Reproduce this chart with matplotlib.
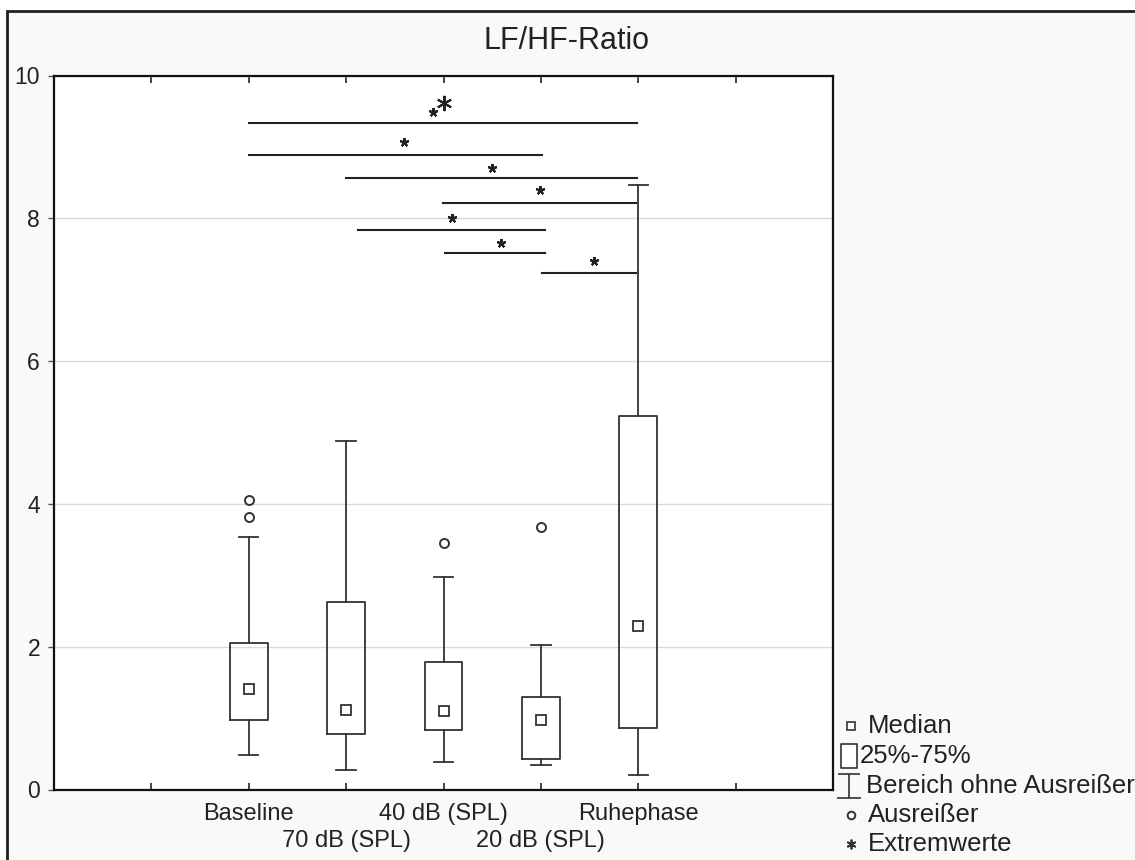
import numpy as np
import matplotlib
matplotlib.use("Agg")
import matplotlib.pyplot as plt
from matplotlib.path import Path
from matplotlib.lines import Line2D
from matplotlib.patches import Rectangle

plt.rcParams['font.family'] = ['Liberation Sans', 'DejaVu Sans']

# ---------------- data ----------------
title = "LF/HF-Ratio"
categories = ['Baseline', '70 dB (SPL)', '40 dB (SPL)', '20 dB (SPL)', 'Ruhephase']
medians = [1.41, 1.12, 1.10, 0.97, 2.29]
q1 = [0.98, 0.78, 0.83, 0.43, 0.86]
q3 = [2.05, 2.62, 1.78, 1.30, 5.23]
whislo = [0.48, 0.28, 0.38, 0.34, 0.21]
whishi = [3.54, 4.88, 2.97, 2.02, 8.46]
outliers = [[4.05, 3.82], [], [3.45], [3.68], []]
extremes = [[], [], [9.62], [], []]

# significance brackets (x from, x to, y) and star positions
sig_x0 = [2.00, 2.00, 3.00, 3.99, 3.12, 4.02, 5.01]
sig_x1 = [5.99, 5.01, 5.99, 5.98, 5.04, 5.04, 5.98]
sig_y = [9.33, 8.89, 8.56, 8.21, 7.84, 7.52, 7.24]
star_x = [3.89, 3.59, 4.50, 4.99, 4.09, 4.59, 5.55]
star_y = [9.49, 9.07, 8.70, 8.40, 8.00, 7.65, 7.40]

yticks = [0, 2, 4, 6, 8, 10]
legend_labels = ['Median', '25%-75%', 'Bereich ohne Ausreißer', 'Ausreißer', 'Extremwerte']

# ---------------- figure ----------------
W, H = 1135, 860
fig = plt.figure(figsize=(W / 100, H / 100), dpi=100, facecolor='white')

# outer frame (left and top visible)
fig.add_artist(Rectangle((7 / W, -0.05), 1.2, 1 - 11 / H + 0.05, transform=fig.transFigure,
                         facecolor='#f9f9f9', edgecolor='#202020', linewidth=2.0, zorder=0))

ax = fig.add_axes([54 / W, 1 - 789.5 / H, (833 - 54) / W, (789.5 - 75.5) / H])
ax.set_facecolor('white')
ax.set_zorder(1)

dark = '#333333'
pos = np.arange(len(categories)) + 2

stats = []
for i, c in enumerate(categories):
    stats.append(dict(label=c, med=medians[i], q1=q1[i], q3=q3[i],
                      whislo=whislo[i], whishi=whishi[i], fliers=outliers[i]))

ax.bxp(stats, positions=pos, widths=0.39, capwidths=0.2, showfliers=True,
       boxprops=dict(color=dark, linewidth=1.3),
       whiskerprops=dict(color=dark, linewidth=1.3),
       capprops=dict(color=dark, linewidth=1.3),
       medianprops=dict(linestyle='none', linewidth=0),
       flierprops=dict(marker='o', markersize=6.5, markerfacecolor='none',
                       markeredgecolor=dark, markeredgewidth=1.4),
       zorder=3)

ax.plot(pos, medians, linestyle='none', marker='s', markersize=7,
        markerfacecolor='white', markeredgecolor=dark, markeredgewidth=1.3, zorder=4)

for i, ex in enumerate(extremes):
    if ex:
        ax.plot([pos[i]] * len(ex), ex, linestyle='none', marker=(6, 2, 0), markersize=11,
                markeredgecolor='#222222', markeredgewidth=1.5, zorder=4)

for x0, x1, y in zip(sig_x0, sig_x1, sig_y):
    ax.plot([x0, x1], [y, y], color='#222222', linewidth=1.5, zorder=3)
ax.plot(star_x, star_y, linestyle='none', marker=(5, 2, 0), markersize=6.5,
        markeredgecolor='#222222', markeredgewidth=1.5, zorder=4)

ax.set_xlim(0, 8)
ax.set_ylim(0, 10)
ax.set_yticks(yticks)
ax.set_yticklabels([str(v) for v in yticks])
ax.yaxis.grid(True, color='#d9d9d9', linewidth=1.0)
ax.set_axisbelow(True)

# major ticks 1..7; first-row labels on major ticks, second-row labels on minor ticks
xt = list(range(1, 8))
xl = [''] * len(xt)
minor_pos, minor_lab = [], []
for i, c in enumerate(categories):
    if i % 2 == 0:
        xl[pos[i] - 1] = c
    else:
        minor_pos.append(pos[i])
        minor_lab.append(c)
ax.xaxis.remove_overlapping_locs = False
ax.set_xticks(xt)
ax.set_xticklabels(xl)
ax.set_xticks(minor_pos, minor=True)
ax.set_xticklabels(minor_lab, minor=True)

ax.tick_params(axis='x', which='major', direction='in', top=True, bottom=True, length=5, width=1.2,
               color='#222222', labelsize=17, pad=10, labelcolor='#222222')
ax.tick_params(axis='x', which='minor', direction='in', top=False, bottom=True, length=0,
               labelsize=17, pad=29, labelcolor='#222222')
ax.tick_params(axis='y', direction='out', left=True, right=False, length=4, width=1.0,
               color='#555555', labelsize=16.5, pad=6, labelcolor='#222222')
for s in ax.spines.values():
    s.set_color('#111111')
    s.set_linewidth(1.6)

fig.text(567 / W, 1 - 41 / H, title, ha='center', va='center', fontsize=22, color='#222222')

# ---------------- legend (manual, figure coords) ----------------
rect_path = Path([(-0.7, -1), (0.7, -1), (0.7, 1), (-0.7, 1), (-0.7, -1)],
                 [Path.MOVETO, Path.LINETO, Path.LINETO, Path.LINETO, Path.CLOSEPOLY])
ibar_path = Path([(-0.9, 1), (0.9, 1), (0, 1), (0, -1), (-1, -1), (1, -1)],
                 [Path.MOVETO, Path.LINETO, Path.MOVETO, Path.LINETO, Path.MOVETO, Path.LINETO])
leg_y = [726, 756, 786, 815, 844]
leg_marker = [
    dict(marker='s', markersize=5.5, markerfacecolor='white', markeredgewidth=1.2),
    dict(marker=rect_path, markersize=17, markerfacecolor='white', markeredgewidth=1.2),
    dict(marker=ibar_path, markersize=17, markerfacecolor='none', markeredgewidth=1.2),
    dict(marker='o', markersize=5.5, markerfacecolor='none', markeredgewidth=1.4),
    dict(marker=(6, 2, 0), markersize=7, markeredgewidth=1.3),
]
leg_mx = [851, 849, 849, 851, 851]
leg_tx = [868, 860, 866, 868, 868]
for lab, yy, mk, mx, tx in zip(legend_labels, leg_y, leg_marker, leg_mx, leg_tx):
    fig.add_artist(Line2D([mx / W], [1 - yy / H], transform=fig.transFigure, linestyle='none',
                          markeredgecolor='#333333', **mk))
    fig.text(tx / W, 1 - yy / H, lab, ha='left', va='center', fontsize=18.5, color='#222222')

fig.savefig('out.png', dpi=100, facecolor=fig.get_facecolor())
